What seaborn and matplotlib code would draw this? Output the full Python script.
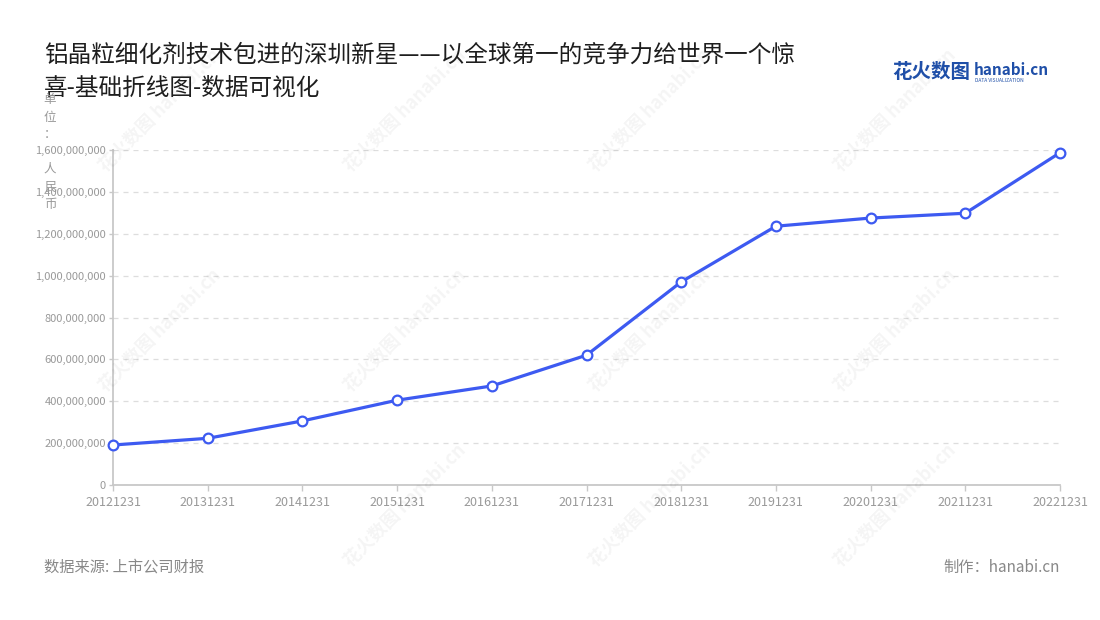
import matplotlib
matplotlib.use("Agg")
import matplotlib.pyplot as plt
import matplotlib.ticker as mticker
import seaborn as sns
import pandas as pd

# 数据
dates = ["20121231", "20131231", "20141231", "20151231", "20161231", "20171231",
         "20181231", "20191231", "20201231", "20211231", "20221231"]
revenue = [191e6, 223e6, 306e6, 405e6, 473e6, 620e6,
           970e6, 1236e6, 1275e6, 1298e6, 1587e6]

title_1 = "铝晶粒细化剂技术包进的深圳新星——以全球第一的竞争力给世界一个惊"
title_2 = "喜-基础折线图-数据可视化"
unit_label = "单\n位\n：\n\n人\n民\n币"
source = "数据来源: 上市公司财报"
credit = "制作：hanabi.cn"

sns.set_theme(style="white")
plt.rcParams["font.family"] = ["Noto Sans CJK SC", "DejaVu Sans"]

df = pd.DataFrame({"date": dates, "revenue": revenue})

fig = plt.figure(figsize=(11, 6.2), dpi=100)
ax = fig.add_axes([113 / 1100, 1 - 485 / 620, (1060 - 113) / 1100, (485 - 150) / 620])

line_color = "#3d5af1"
sns.lineplot(data=df, x="date", y="revenue", ax=ax, color=line_color, linewidth=2.3,
             marker="o", markersize=7, markerfacecolor="white",
             markeredgecolor=line_color, markeredgewidth=1.6, zorder=5, clip_on=False)

ax.set_xlim(0, len(dates) - 1)
ax.set_ylim(0, 1.6e9)
ax.set_yticks([i * 2e8 for i in range(9)])
ax.yaxis.set_major_formatter(mticker.FuncFormatter(lambda v, p: f"{int(v):,}"))
ax.set_xlabel("")
ax.set_ylabel("")

ax.grid(axis="y", color="#dddddd", linestyle=(0, (4, 4)), linewidth=0.9)
ax.grid(axis="x", visible=False)
for s in ["top", "right"]:
    ax.spines[s].set_visible(False)
for s in ["left", "bottom"]:
    ax.spines[s].set_color("#c8c8c8")
    ax.spines[s].set_linewidth(1.3)

ax.tick_params(axis="both", colors="#c8c8c8", labelcolor="#999999", labelsize=8,
               length=4, width=1, direction="out", bottom=True, left=True)
ax.tick_params(axis="y", length=3, pad=2)
ax.tick_params(axis="x", pad=4, labelsize=9)

# 水印
wm_pos = [(160, 110), (405, 110), (650, 110), (895, 110),
          (160, 330), (405, 330), (650, 330), (895, 330),
          (405, 505), (650, 505), (895, 505)]
for x, y in wm_pos:
    fig.text(x / 1100, 1 - y / 620, "花火数图 hanabi.cn", rotation=45, fontsize=13,
             fontweight="bold", color="#000000", alpha=0.045, ha="center", va="center")

# 标题
fig.text(44 / 1100, 1 - 55 / 620, title_1, fontsize=17, color="#1e1e1e", va="center", ha="left")
fig.text(44 / 1100, 1 - 88 / 620, title_2, fontsize=17, color="#1e1e1e", va="center", ha="left")

# 单位
fig.text(50 / 1100, 1 - 152 / 620, unit_label, fontsize=9, color="#999999",
         ha="center", va="center", linespacing=1.45)

# logo
fig.text(892 / 1100, 1 - 73 / 620, "花火数图", fontsize=14, fontweight="bold",
         color="#1f4fa8", ha="left", va="center")
fig.text(974 / 1100, 1 - 70 / 620, "hanabi.cn", fontsize=11, fontweight="bold",
         color="#1f4fa8", ha="left", va="center")
fig.text(975 / 1100, 1 - 80 / 620, "DATA VISUALIZATION", fontsize=3.5,
         color="#1f4fa8", ha="left", va="center")

# 底部
fig.text(44 / 1100, 1 - 567 / 620, source, fontsize=11, color="#888888", ha="left", va="center")
fig.text(1060 / 1100, 1 - 567 / 620, credit, fontsize=11, color="#888888", ha="right", va="center")

fig.savefig("out.png", dpi=100, facecolor="white")
